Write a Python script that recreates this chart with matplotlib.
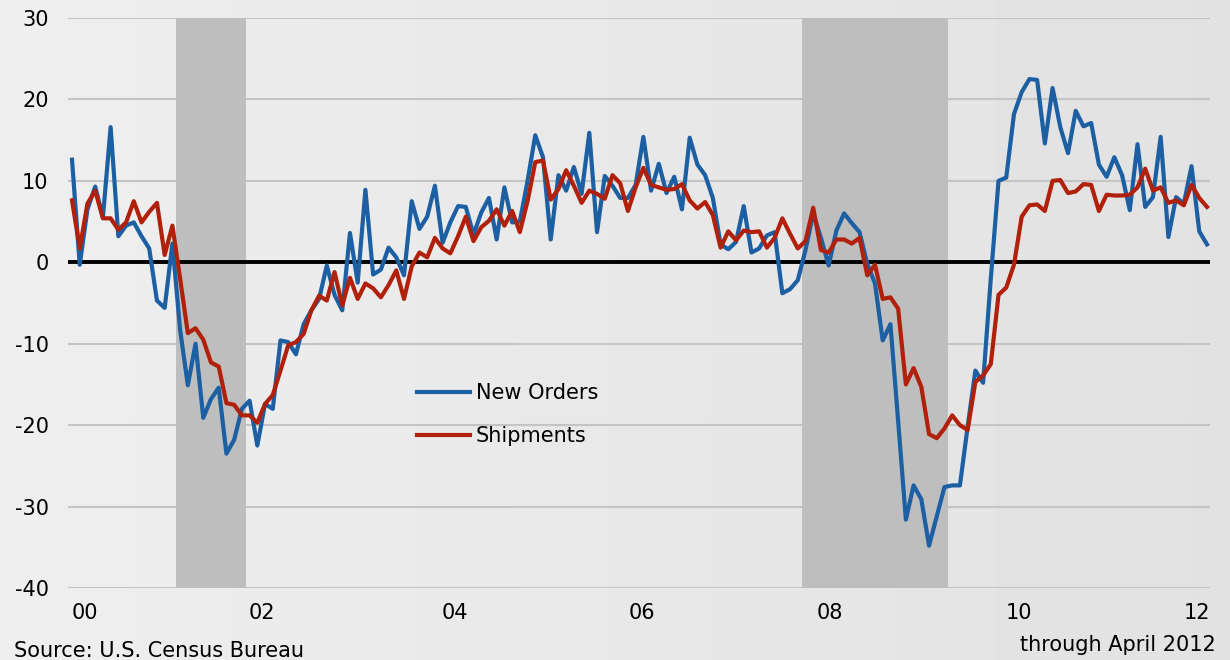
import matplotlib
matplotlib.use("Agg")
import matplotlib.pyplot as plt
import numpy as np

# Monthly year-over-year % change, Jan 2000 .. Apr 2012
new_orders = [
    12.6, -0.3, 6.5, 9.3, 5.5, 16.6, 3.2, 4.5, 4.9, 3.2, 1.7, -4.7,
    -5.6, 2.3, -8.3, -15.1, -10.0, -19.1, -16.8, -15.4, -23.5, -21.8, -18.0, -17.0,
    -22.5, -17.4, -18.0, -9.6, -9.8, -11.3, -7.6, -5.9, -4.5, -0.4, -4.0, -5.9,
    3.6, -2.5, 8.9, -1.5, -0.9, 1.8, 0.6, -1.6, 7.5, 4.1, 5.6, 9.4,
    2.4, 4.9, 6.9, 6.8, 3.4, 6.1, 7.9, 2.8, 9.2, 4.9, 5.0, 10.0,
    15.6, 12.9, 2.8, 10.7, 8.8, 11.7, 8.4, 15.9, 3.7, 10.6, 9.4, 7.9,
    7.9, 9.5, 15.4, 8.8, 12.1, 8.5, 10.5, 6.5, 15.3, 12.0, 10.7, 7.9,
    2.2, 1.6, 2.5, 6.9, 1.2, 1.7, 3.3, 3.7, -3.8, -3.3, -2.2, 1.5,
    6.0, 3.0, -0.4, 3.9, 6.0, 4.8, 3.7, -0.2, -2.6, -9.6, -7.6, -19.5,
    -31.6, -27.4, -29.1, -34.8, -31.2, -27.6, -27.4, -27.4, -20.2, -13.3, -14.8, -2.0,
    10.0, 10.4, 18.2, 20.9, 22.5, 22.4, 14.6, 21.4, 16.6, 13.4, 18.6, 16.7,
    17.1, 12.0, 10.5, 12.9, 10.7, 6.4, 14.5, 6.8, 8.0, 15.4, 3.1, 8.0,
    7.2, 11.8, 3.8, 2.2,
]
shipments = [
    7.6, 1.7, 7.2, 8.8, 5.4, 5.4, 4.0, 4.9, 7.5, 4.9, 6.2, 7.3,
    0.9, 4.5, -2.0, -8.7, -8.1, -9.5, -12.3, -12.8, -17.3, -17.5, -18.8, -18.8,
    -19.7, -17.4, -16.3, -13.3, -10.2, -9.8, -8.8, -5.9, -4.1, -4.7, -1.2, -5.3,
    -1.9, -4.5, -2.6, -3.2, -4.3, -2.8, -1.0, -4.5, -0.5, 1.2, 0.6, 3.0,
    1.7, 1.1, 3.2, 5.6, 2.6, 4.3, 5.1, 6.5, 4.5, 6.3, 3.7, 7.5,
    12.3, 12.5, 7.7, 9.0, 11.3, 9.4, 7.3, 8.8, 8.4, 7.8, 10.7, 9.7,
    6.3, 9.2, 11.6, 9.5, 9.2, 8.9, 9.0, 9.6, 7.6, 6.6, 7.4, 5.8,
    1.8, 3.8, 2.7, 3.9, 3.7, 3.8, 1.8, 3.0, 5.4, 3.5, 1.7, 2.6,
    6.7, 1.5, 1.2, 2.8, 2.8, 2.3, 3.0, -1.6, -0.3, -4.5, -4.3, -5.7,
    -15.0, -13.0, -15.3, -21.1, -21.6, -20.4, -18.8, -20.0, -20.6, -14.7, -13.9, -12.5,
    -4.0, -3.1, -0.3, 5.6, 7.0, 7.1, 6.3, 10.0, 10.1, 8.5, 8.7, 9.6,
    9.5, 6.3, 8.3, 8.2, 8.2, 8.3, 9.2, 11.5, 8.8, 9.2, 7.3, 7.6,
    7.0, 9.5, 7.9, 6.8,
]
# recessions as (first month index, last month index) from Jan 2000
recessions = [(14, 22), (95, 113)]
year_labels = ["00", "02", "04", "06", "08", "10", "12"]
# label positions in months, as placed on the original chart
year_label_pos = [1.7, 24.6, 49.6, 73.8, 98.2, 122.6, 145.7]
y_ticks = [30, 20, 10, 0, -10, -20, -30, -40]

plt.rcParams["font.family"] = ["DejaVu Sans"]
fs = 15

months = np.arange(len(new_orders))

fig = plt.figure(figsize=(12.3, 6.6), dpi=100)

# soft grey background, a bit lighter on the left
bg = fig.add_axes([0, 0, 1, 1], zorder=-10)
grad = np.linspace(0.935, 0.885, 256).reshape(1, -1)
bg.imshow(grad, cmap="gray", vmin=0, vmax=1, aspect="auto", extent=[0, 1, 0, 1])
bg.axis("off")

ax = fig.add_axes([68 / 1230, 72 / 660, 1142 / 1230, 570 / 660])
ax.set_facecolor("none")

for start, end in recessions:
    ax.axvspan(start - 0.5, end + 0.5, color="#bebebe", lw=0, zorder=2)

for v in y_ticks:
    if v != 0:
        ax.axhline(v, color="#c4c4c4", lw=1.5, zorder=1)
ax.axhline(0, color="black", lw=2.8, zorder=3)

ax.plot(months, new_orders, color="#1c5fa3", lw=3, label="New Orders", zorder=4,
        solid_joinstyle="round")
ax.plot(months, shipments, color="#b0200a", lw=3, label="Shipments", zorder=5,
        solid_joinstyle="round")

ax.set_xlim(-0.52, 147.39)
ax.set_ylim(-40, 30)
ax.set_yticks(y_ticks)
ax.set_yticklabels([str(v) for v in y_ticks])
ax.set_xticks(year_label_pos)
ax.set_xticklabels(year_labels)
ax.tick_params(axis="both", length=0, labelsize=fs, colors="black")
ax.tick_params(axis="y", pad=14)
ax.tick_params(axis="x", pad=11)
for s in ax.spines.values():
    s.set_visible(False)

leg = ax.legend(loc="upper left", bbox_to_anchor=(0.306, 0.360), frameon=False,
                fontsize=fs, handlelength=2.5, handletextpad=0.29,
                labelspacing=1.12, borderpad=0, borderaxespad=0)

fig.text(14 / 1230, 1 - 651 / 660, "Source: U.S. Census Bureau", fontsize=fs,
         va="center", ha="left")
fig.text(1216 / 1230, 1 - 645 / 660, "through April 2012", fontsize=fs,
         va="center", ha="right")

fig.savefig("out.png", dpi=100)
